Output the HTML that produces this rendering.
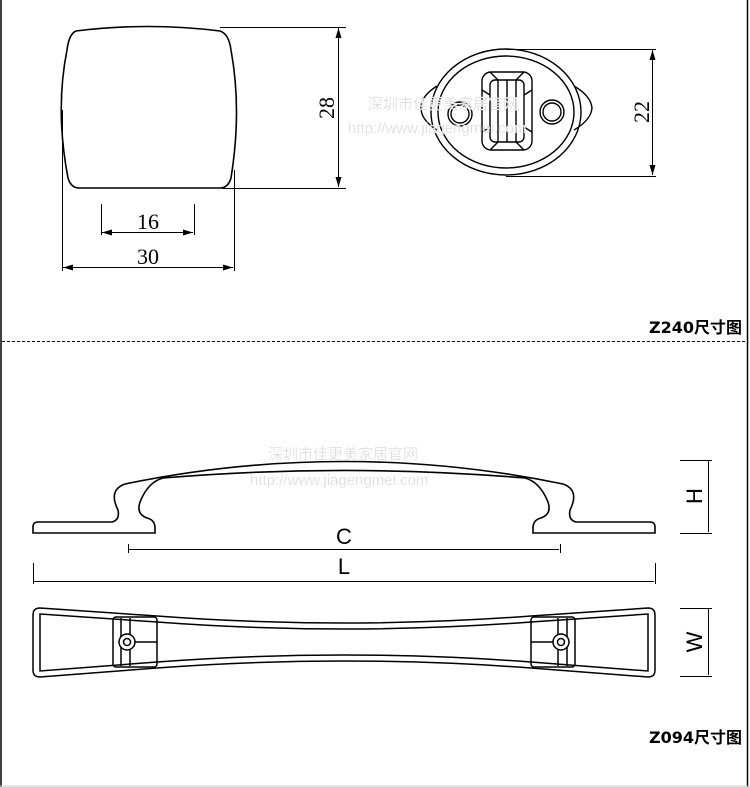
<!DOCTYPE html>
<html><head><meta charset="utf-8"><style>html,body{margin:0;padding:0;background:#fff}svg{display:block}</style></head><body>
<svg width="750" height="787" viewBox="0 0 750 787" xmlns="http://www.w3.org/2000/svg" font-family="Liberation Serif, serif">
<defs>
<marker id="a" viewBox="0 0 10 6" refX="10" refY="3" markerWidth="10" markerHeight="6" markerUnits="userSpaceOnUse" orient="auto-start-reverse"><path d="M0,0 L10,3 L0,6 Z" fill="#000"/></marker>
</defs>
<line x1="1" y1="0" x2="1" y2="787" stroke="#000" stroke-width="1.5"/>
<line x1="747.5" y1="0" x2="747.5" y2="787" stroke="#000" stroke-width="1.5"/>
<line x1="0" y1="786" x2="750" y2="786" stroke="#ccc"/>
<line x1="2" y1="341.5" x2="747" y2="341.5" stroke="#000" stroke-dasharray="3,2"/>

<!-- knob front -->
<path d="M76,31 Q148,22 220,31 Q229,34 231,50 Q242,110 231,178 Q228,188 220,188 L79,188 Q71,188 68,178 Q55,110 67,50 Q69,34 76,31 Z" fill="none" stroke="#000" stroke-width="1.6"/>
<g stroke="#000" stroke-width="1" fill="none">
<line x1="220" y1="27.5" x2="346" y2="27.5"/><line x1="222" y1="188.5" x2="346" y2="188.5"/>
<line x1="338.5" y1="28" x2="338.5" y2="187" marker-start="url(#a)" marker-end="url(#a)"/>
<line x1="62.5" y1="110" x2="62.5" y2="271"/><line x1="234.5" y1="170" x2="234.5" y2="271"/>
<line x1="63" y1="267.5" x2="233" y2="267.5" marker-start="url(#a)" marker-end="url(#a)"/>
<line x1="101.5" y1="204" x2="101.5" y2="235"/><line x1="194.5" y1="204" x2="194.5" y2="235"/>
<line x1="102" y1="232.5" x2="193" y2="232.5" marker-start="url(#a)" marker-end="url(#a)"/>
<line x1="506" y1="49.5" x2="656" y2="49.5"/><line x1="506" y1="176.5" x2="656" y2="176.5"/>
<line x1="652.5" y1="50" x2="652.5" y2="175" marker-start="url(#a)" marker-end="url(#a)"/>
</g>
<text x="148" y="229" font-size="22" text-anchor="middle">16</text>
<text x="148" y="264" font-size="22" text-anchor="middle">30</text>
<text transform="translate(334,108) rotate(-90)" font-size="22" text-anchor="middle">28</text>
<text transform="translate(649,112) rotate(-90)" font-size="22" text-anchor="middle">22</text>

<!-- top view knob -->
<g fill="none" stroke="#000" stroke-width="1.4">
<path d="M437,86 Q421,96 421,108 Q421,120 437,130"/>
<path d="M574,86 Q591,96 592,108 Q591,120 574,130"/>
<ellipse cx="506" cy="112" rx="75" ry="63"/>
<ellipse cx="506" cy="112" rx="68" ry="56"/>
<rect x="482" y="72" width="50" height="78" rx="9"/>
<rect x="490" y="80" width="34" height="62" rx="5"/>
<line x1="498" y1="80" x2="498" y2="142"/><line x1="507" y1="80" x2="507" y2="142"/><line x1="516" y1="80" x2="516" y2="142"/>
<line x1="482" y1="90" x2="490" y2="95"/><line x1="532" y1="90" x2="524" y2="95"/>
<line x1="482" y1="132" x2="490" y2="127"/><line x1="532" y1="132" x2="524" y2="127"/>
<line x1="490" y1="72" x2="498" y2="80"/><line x1="524" y1="72" x2="516" y2="80"/>
<line x1="490" y1="150" x2="498" y2="142"/><line x1="524" y1="150" x2="516" y2="142"/>
<circle cx="460" cy="114" r="12"/><circle cx="460" cy="114" r="9"/>
<circle cx="552" cy="112" r="12"/><circle cx="552" cy="112" r="9"/>
</g>

<!-- handle profile -->
<path d="M38,522 L112,522 Q120,520 118,510 Q108,490 125,484 C270,454 418,454 563,484 Q580,490 570,510 Q568,520 576,522 L650,522 Q655,522 655,527 L655,533 L533,533 L533,528 Q533,520 541,518 Q552,514 548,502 Q540,482 525,478 C405,468 283,468 163,478 Q148,482 140,502 Q136,514 147,518 Q155,520 155,528 L155,533 L33,533 L33,527 Q33,522 38,522 Z" fill="none" stroke="#000" stroke-width="1.6"/>
<g stroke="#000" stroke-width="1" fill="none">
<line x1="128.5" y1="544" x2="128.5" y2="553"/><line x1="560.5" y1="544" x2="560.5" y2="553"/>
<line x1="129" y1="549.5" x2="559" y2="549.5"/>
<line x1="33.5" y1="563" x2="33.5" y2="584"/><line x1="655.5" y1="563" x2="655.5" y2="584"/>
<line x1="34" y1="581.5" x2="654" y2="581.5"/>
<line x1="680" y1="460.5" x2="712" y2="460.5"/><line x1="680" y1="533.5" x2="712" y2="533.5"/>
<line x1="708.5" y1="461" x2="708.5" y2="532"/>
<line x1="680" y1="608.5" x2="712" y2="608.5"/><line x1="680" y1="676.5" x2="712" y2="676.5"/>
<line x1="708.5" y1="609" x2="708.5" y2="675"/>
</g>
<text x="344" y="544" font-family="Liberation Sans, sans-serif" font-size="22" text-anchor="middle">C</text>
<text x="344" y="574" font-family="Liberation Sans, sans-serif" font-size="22" text-anchor="middle">L</text>
<text transform="translate(702,496) rotate(-90)" font-family="Liberation Sans, sans-serif" font-size="22" text-anchor="middle">H</text>
<text transform="translate(702,642) rotate(-90)" font-family="Liberation Sans, sans-serif" font-size="22" text-anchor="middle">W</text>

<!-- handle top view -->
<g fill="none" stroke="#000" stroke-width="1.5">
<path d="M40,608 L157,616 Q344,630 531,616 L648,608 Q655,608 655,615 L655,670 Q655,677 648,677 L531,668 Q344,654 157,668 L40,677 Q33,677 33,670 L33,615 Q33,608 40,608 Z"/>
<path d="M40,614 L157,622 Q344,636 531,622 L648,614 L648,671 L531,662 Q344,648 157,662 L40,671 Z"/>
<rect x="113" y="617" width="44" height="50" rx="3"/>
<line x1="121" y1="618" x2="121" y2="666"/><line x1="130" y1="618" x2="130" y2="666"/>
<line x1="135" y1="642" x2="157" y2="642"/>
<circle cx="127" cy="642" r="8" fill="#fff"/><circle cx="127" cy="642" r="3.5"/>
<rect x="531" y="617" width="44" height="50" rx="3"/>
<line x1="558" y1="618" x2="558" y2="666"/><line x1="567" y1="618" x2="567" y2="666"/>
<line x1="531" y1="642" x2="553" y2="642"/>
<circle cx="561" cy="642" r="8" fill="#fff"/><circle cx="561" cy="642" r="3.5"/>
</g>

<!-- watermarks -->
<g fill="#d8d8d8" font-family="Liberation Sans, 'Noto Sans CJK SC', sans-serif" font-size="15" stroke="#fff" stroke-width="0.3">
<text x="368" y="109">深圳市佳更美家居官网</text>
<text x="348" y="133">http://www.jiagengmei.com</text>
<text x="268" y="459">深圳市佳更美家居官网</text>
<text x="250" y="485">http://www.jiagengmei.com</text>
</g>

<g font-family="'DejaVu Sans', 'Noto Sans CJK SC', sans-serif" font-weight="bold" font-size="16" fill="#000">
<text x="742" y="333" text-anchor="end">Z240尺寸图</text>
<text x="742" y="743" text-anchor="end">Z094尺寸图</text>
</g>
</svg>
</body></html>
